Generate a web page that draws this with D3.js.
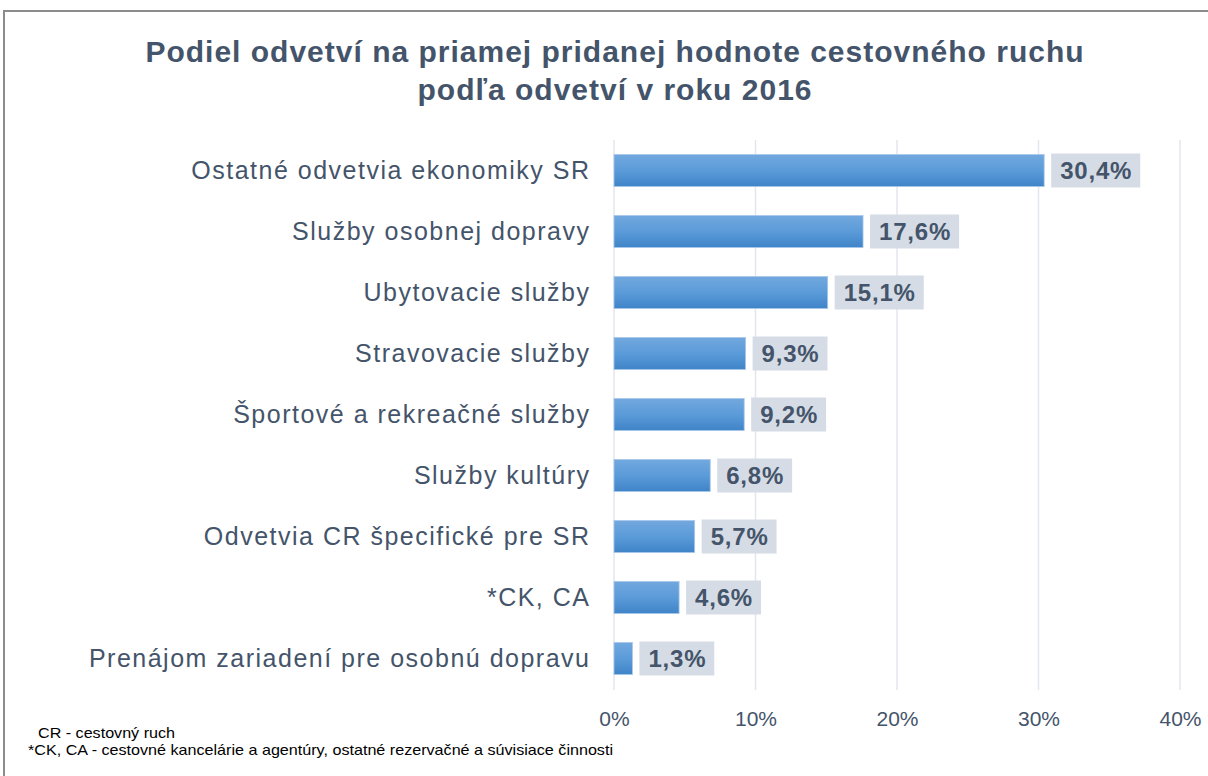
<!DOCTYPE html>
<html>
<head>
<meta charset="utf-8">
<script src="https://cdn.jsdelivr.net/npm/d3@7"></script>
<style>
  html, body { margin: 0; padding: 0; background: #fff; }
  svg { display: block; font-family: "Liberation Sans", Arial, sans-serif; }
</style>
</head>
<body>
<div id="chart"></div>
<script>
const categories = [
  "Ostatné odvetvia ekonomiky SR",
  "Služby osobnej dopravy",
  "Ubytovacie služby",
  "Stravovacie služby",
  "Športové a rekreačné služby",
  "Služby kultúry",
  "Odvetvia CR špecifické pre SR",
  "*CK, CA",
  "Prenájom zariadení pre osobnú dopravu"
];
const values = [30.4, 17.6, 15.1, 9.3, 9.2, 6.8, 5.7, 4.6, 1.3];
const tickValues = [0, 10, 20, 30, 40];
const titleLines = [
  "Podiel odvetví na priamej pridanej hodnote cestovného ruchu",
  "podľa odvetví v roku 2016"
];
const notes = [
  "CR - cestovný ruch",
  "*CK, CA - cestovné kancelárie a agentúry, ostatné rezervačné a súvisiace činnosti"
];

const W = 1208, H = 776;
const textColor = "#44546a";

const svg = d3.select("#chart").append("svg")
    .attr("width", W)
    .attr("height", H);

const defs = svg.append("defs");
const grad = defs.append("linearGradient")
    .attr("id", "barGrad")
    .attr("x1", 0).attr("y1", 0).attr("x2", 0).attr("y2", 1);
grad.append("stop").attr("offset", "0%").attr("stop-color", "#72a8de");
grad.append("stop").attr("offset", "50%").attr("stop-color", "#5b9bd9");
grad.append("stop").attr("offset", "100%").attr("stop-color", "#3f84c8");

// outer frame (only left and top edges are visible)
svg.append("rect")
    .attr("x", 4)
    .attr("y", 11)
    .attr("width", 1300)
    .attr("height", 900)
    .style("fill", "none")
    .style("stroke", "#8c8c8c")
    .style("stroke-width", 2);

// title
svg.append("g").selectAll("text")
  .data(titleLines)
  .enter().append("text")
    .attr("x", 615)
    .attr("y", (d, i) => 62 + i * 38)
    .attr("text-anchor", "middle")
    .style("font-size", "30px")
    .style("font-weight", "bold")
    .style("letter-spacing", "1px")
    .style("fill", textColor)
    .text(d => d);

const x = d3.scaleLinear().domain([0, 40]).range([614, 1180]);
const y = d3.scaleBand().domain(categories).range([140, 689]).paddingInner(0.475).paddingOuter(0.2375);

// gridlines
svg.append("g").selectAll("line")
  .data(tickValues)
  .enter().append("line")
    .attr("x1", d => x(d))
    .attr("x2", d => x(d))
    .attr("y1", 140)
    .attr("y2", 690)
    .style("stroke", "#e3e6ec")
    .style("stroke-width", 1.5);

// x axis labels
const xAxis = d3.axisBottom(x)
    .tickValues(tickValues)
    .tickSize(0)
    .tickPadding(0)
    .tickFormat(d => d + "%");

svg.append("g")
    .attr("transform", "translate(0,726)")
    .call(xAxis)
    .call(g => g.select(".domain").remove())
    .call(g => g.selectAll("text")
        .attr("dy", 0)
        .style("font-size", "21px")
        .style("font-family", "'Liberation Sans', Arial, sans-serif")
        .style("fill", textColor));

// category labels
const yAxis = d3.axisLeft(y).tickSize(0).tickPadding(0);
svg.append("g")
    .attr("transform", "translate(590.5,0)")
    .call(yAxis)
    .call(g => g.select(".domain").remove())
    .call(g => g.selectAll("text")
        .attr("dy", "0.35em")
        .style("font-size", "25px")
        .style("letter-spacing", "1.5px")
        .style("font-family", "'Liberation Sans', Arial, sans-serif")
        .style("fill", textColor));

// bars
svg.append("g").selectAll("rect")
  .data(values)
  .enter().append("rect")
    .attr("x", x(0))
    .attr("y", (d, i) => y(categories[i]))
    .attr("width", d => x(d) - x(0))
    .attr("height", y.bandwidth())
    .style("fill", "url(#barGrad)")
    .style("stroke", "#a9c7ea")
    .style("stroke-width", 0.8);

// value labels with boxes
const lbl = svg.append("g").selectAll("g")
  .data(values)
  .enter().append("g")
    .attr("transform", (d, i) => "translate(" + (x(d) + 7) + "," + (y(categories[i]) + y.bandwidth() / 2) + ")");

lbl.append("text")
    .attr("x", 9)
    .attr("dy", "0.36em")
    .style("font-size", "24px")
    .style("font-weight", "bold")
    .style("letter-spacing", "0.8px")
    .style("fill", textColor)
    .text(d => d3.format(".1f")(d).replace(".", ",") + "%");

lbl.each(function() {
  const g = d3.select(this);
  const w = g.select("text").node().getComputedTextLength();
  g.insert("rect", "text")
      .attr("x", 0)
      .attr("y", -17)
      .attr("width", w + 17)
      .attr("height", 34)
      .style("fill", "#d6dce5");
});

// footnotes
svg.append("g").selectAll("text")
  .data(notes)
  .enter().append("text")
    .attr("x", (d, i) => i === 0 ? 38 : 28)
    .attr("y", (d, i) => 738 + i * 17)
    .attr("textLength", (d, i) => i === 0 ? 137 : 585)
    .attr("lengthAdjust", "spacingAndGlyphs")
    .style("font-size", "15px")
    .style("font-family", "'Liberation Sans Narrow', 'Liberation Sans', Arial, sans-serif")
    .style("fill", "#000")
    .text(d => d);
</script>
</body>
</html>
